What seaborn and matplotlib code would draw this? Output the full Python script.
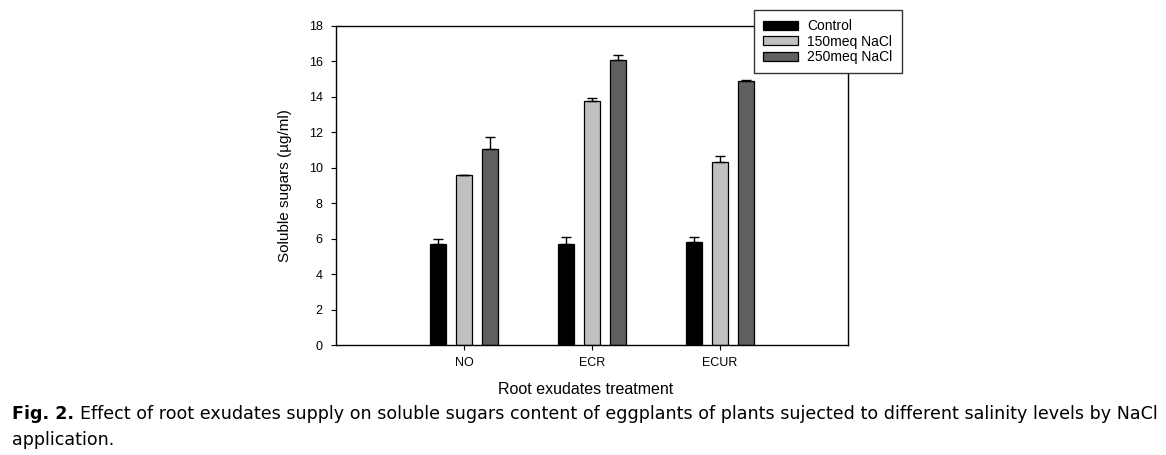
import matplotlib
matplotlib.use("Agg")
import matplotlib.pyplot as plt
import numpy as np
import pandas as pd
import seaborn as sns

treatments = ["NO", "ECR", "ECUR"]
levels = ["Control", "150meq NaCl", "250meq NaCl"]
control = [5.72, 5.68, 5.79]
nacl150 = [9.62, 13.74, 10.30]
nacl250 = [11.05, 16.09, 14.92]
err_control = [0.25, 0.42, 0.31]
err_150 = [0.0, 0.17, 0.38]
err_250 = [0.68, 0.25, 0.06]
yticks = [0, 2, 4, 6, 8, 10, 12, 14, 16, 18]

colors = ["#000000", "#c0c0c0", "#606060"]

data = pd.DataFrame({
    "treatment": treatments * 3,
    "level": [lv for lv in levels for _ in treatments],
    "value": control + nacl150 + nacl250,
})
errors = [err_control, err_150, err_250]

sns.set_style("white")
plt.rcParams["font.family"] = ["Liberation Sans", "DejaVu Sans"]
for key in ["text.color", "axes.labelcolor", "xtick.color", "ytick.color"]:
    plt.rcParams[key] = "black"

fig = plt.figure(figsize=(11.66, 4.55), dpi=100)
ax = fig.add_axes([336 / 1166, 1 - 345 / 455, 512 / 1166, 319 / 455])

sns.barplot(
    data, x="treatment", y="value", hue="level", palette=colors,
    width=0.6, gap=0.375, errorbar=None, edgecolor="black", linewidth=0.9,
    saturation=1, ax=ax,
)

# upward-only error bars on top of each bar
for cont, err in zip(ax.containers, errors):
    xs = [p.get_x() + p.get_width() / 2 for p in cont.patches]
    hs = [p.get_height() for p in cont.patches]
    ax.errorbar(xs, hs, yerr=[np.zeros(len(err)), err], fmt="none",
                ecolor="black", elinewidth=1, capsize=3.6, capthick=1)

ax.set_xlim(-1, 3)
ax.set_ylim(0, 18)
ax.set_yticks(yticks)
ax.set_yticklabels([str(t) for t in yticks], fontsize=9)
ax.tick_params(axis="x", labelsize=9, length=3.6, width=0.8, color="black",
               pad=5, bottom=True)
ax.tick_params(axis="y", length=3.6, width=0.8, color="black", left=True, pad=6)
for sp in ax.spines.values():
    sp.set_color("black")
    sp.set_linewidth(1)
ax.set_ylabel("Soluble sugars (µg/ml)", fontsize=11, labelpad=12)
ax.set_xlabel("")

handles, labels = ax.get_legend_handles_labels()
leg = ax.legend(
    handles, labels, loc="upper left", bbox_to_anchor=(754 / 1166, 1 - 10 / 455),
    bbox_transform=fig.transFigure, fontsize=10, frameon=True, fancybox=False,
    handlelength=2.5, handleheight=0.6, borderpad=0.65, labelspacing=0.12,
    handletextpad=0.7, borderaxespad=0,
)
leg.get_frame().set_edgecolor("#333333")
leg.get_frame().set_linewidth(1)
leg.get_frame().set_alpha(1)

fig.text(586 / 1166, 1 - 389 / 455, "Root exudates treatment", ha="center",
         va="center", fontsize=11.5)

fig.canvas.draw()
renderer = fig.canvas.get_renderer()
t1 = fig.text(12 / 1166, 1 - 414 / 455, "Fig. 2.", fontsize=12.6, fontweight="bold",
              va="center", family=["DejaVu Sans"])
bb = t1.get_window_extent(renderer)
fig.text(bb.x1 / 1166 + 6 / 1166, 1 - 414 / 455,
         "Effect of root exudates supply on soluble sugars content of eggplants of plants "
         "sujected to different salinity levels by NaCl",
         fontsize=12.6, va="center", family=["DejaVu Sans"])
fig.text(12 / 1166, 1 - 440 / 455, "application.", fontsize=12.6, va="center",
         family=["DejaVu Sans"])

fig.savefig("out.png", dpi=100)
